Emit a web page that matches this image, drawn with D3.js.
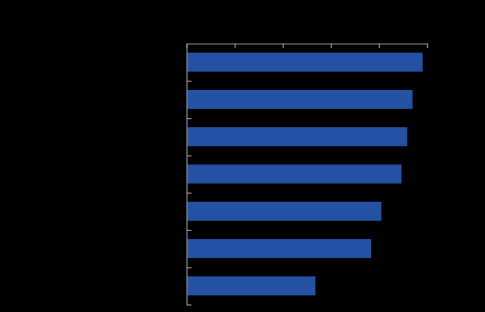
<!DOCTYPE html>
<html>
<head>
<meta charset="utf-8">
<script src="https://cdn.jsdelivr.net/npm/d3@7"></script>
<style>
  html, body { margin: 0; padding: 0; background: #000; }
  svg { display: block; }
</style>
</head>
<body>
<div id="chart"></div>
<script>
// Values (labels are not visible in the reference)
const categories = ["A", "B", "C", "D", "E", "F", "G"];
const values = [4.91, 4.70, 4.59, 4.47, 4.05, 3.84, 2.68];
const xTicks = [0, 1, 2, 3, 4, 5];

const W = 485, H = 312;
const margin = { top: 43.5, right: 58, bottom: 7.5, left: 186.5 };
const width = W - margin.left - margin.right;
const height = H - margin.top - margin.bottom;

var svg = d3.select("#chart")
    .append("svg")
    .attr("width", W)
    .attr("height", H)
    .style("background", "#000")
    .append("g")
    .attr("transform", "translate(" + margin.left + "," + margin.top + ")");

var x = d3.scaleLinear()
    .domain([0, 5])
    .range([0, width]);

var y = d3.scaleBand()
    .domain(categories)
    .range([0, height])
    .paddingInner(0.49)
    .paddingOuter(0.245);

// boundary scale for the left axis ticks (between bars)
var yEdge = d3.scaleLinear()
    .domain([0, categories.length])
    .range([0, height]);

// Bars
svg.append("g")
    .selectAll(".bar")
    .data(values)
    .enter()
    .append("rect")
    .attr("class", "bar")
    .attr("x", x(0) + 0.5)
    .attr("y", (d, i) => { return y(categories[i]); })
    .attr("height", y.bandwidth())
    .attr("width", d => { return x(d) - x(0) - 0.5; })
    .style("fill", "#2451a4");

// Top axis
var gx = svg.append("g")
    .call(d3.axisTop(x).tickValues(xTicks).tickSize(-4.5).tickSizeOuter(0).tickFormat(""));

// Left axis, ticks on the band edges
var gy = svg.append("g")
    .call(d3.axisLeft(yEdge).tickValues(d3.range(1, categories.length + 1)).tickSize(-5).tickSizeOuter(0).tickFormat(""));

[gx, gy].forEach(g => {
    g.selectAll("path, line")
        .attr("stroke", "#8a8a8a")
        .attr("stroke-width", 1.2);
});
</script>
</body>
</html>
